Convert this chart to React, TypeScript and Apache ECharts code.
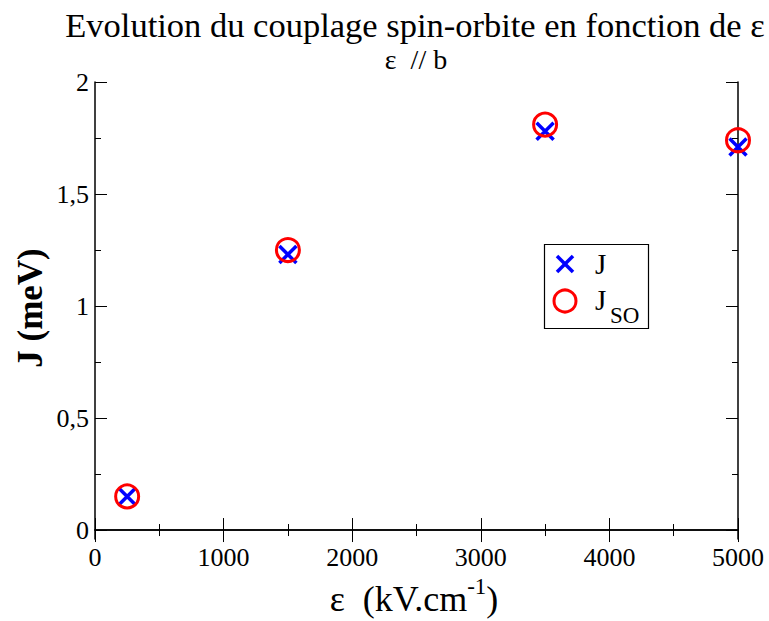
import React, { useEffect, useRef } from "react";
import * as echarts from "echarts";

const xValues = [250, 1500, 3500, 5000];
const jValues = [0.15, 1.23, 1.78, 1.71];
const jsoValues = [0.15, 1.25, 1.81, 1.74];
const yMajorTicks = [0, 0.5, 1, 1.5, 2];
const yMinorTicks = [0.25, 0.75, 1.25, 1.75];

const FONT = "'Liberation Serif', 'Times New Roman', serif";

export default function App() {
  const ref = useRef<HTMLDivElement>(null);
  useEffect(() => {
    document.body.style.margin = "0";
    const chart = echarts.init(ref.current!, null, { renderer: "svg" });
    const axisLine = { show: true, lineStyle: { color: "#000", width: 1.5 } };
    const majorTick = { show: true, inside: true, length: 12, lineStyle: { color: "#000", width: 1 } };
    const minorTick = { show: true, inside: true, length: 6, lineStyle: { color: "#000", width: 1 } };
    const xCommon = {
      type: "value",
      min: 0,
      max: 5000,
      interval: 1000,
      splitLine: { show: false },
      axisLine,
      axisTick: majorTick,
      minorTick: { ...minorTick, splitNumber: 2 },
      minorSplitLine: { show: false },
    };
    const yCommon = {
      type: "value",
      min: -0.04,
      max: 2,
      splitLine: { show: false },
    };
    const txt = (size: number, weight: string = "normal") => ({
      fontFamily: FONT,
      fontSize: size,
      fontWeight: weight,
      fill: "#000",
    });
    chart.setOption({
      animation: false,
      backgroundColor: "#fff",
      grid: { left: 95, right: 31, top: 82, bottom: 82, containLabel: false },
      xAxis: [
        {
          ...xCommon,
          position: "bottom",
          axisLabel: {
            show: true,
            fontFamily: FONT,
            fontSize: 26,
            color: "#000",
            margin: 5,
            formatter: (v: number) => String(v),
          },
        },
        { ...xCommon, position: "top", axisLabel: { show: false } },
      ],
      yAxis: [
        {
          ...yCommon,
          position: "left",
          axisLine,
          axisTick: { ...majorTick, customValues: yMajorTicks },
          axisLabel: {
            show: true,
            customValues: yMajorTicks,
            fontFamily: FONT,
            fontSize: 26,
            color: "#000",
            margin: 6,
            formatter: (v: number) => String(v).replace(".", ","),
          },
        },
        {
          ...yCommon,
          position: "left",
          axisLine: { show: false },
          axisTick: { ...minorTick, customValues: yMinorTicks },
          axisLabel: { show: false },
        },
        {
          ...yCommon,
          position: "right",
          axisLine,
          axisTick: { ...majorTick, customValues: yMajorTicks },
          axisLabel: { show: false },
        },
        {
          ...yCommon,
          position: "right",
          axisLine: { show: false },
          axisTick: { ...minorTick, customValues: yMinorTicks },
          axisLabel: { show: false },
        },
      ],
      series: [
        {
          name: "J",
          type: "scatter",
          xAxisIndex: 0,
          yAxisIndex: 0,
          symbol: "path://M0,0L10,10M10,0L0,10",
          symbolSize: 17,
          itemStyle: { color: "none", borderColor: "#0000ff", borderWidth: 3.5, opacity: 1 },
          data: xValues.map((x, i) => [x, jValues[i]]),
          z: 2,
        },
        {
          name: "JSO",
          type: "scatter",
          xAxisIndex: 0,
          yAxisIndex: 0,
          symbol: "circle",
          symbolSize: 23,
          itemStyle: { color: "none", borderColor: "#ff0000", borderWidth: 3, opacity: 1 },
          data: xValues.map((x, i) => [x, jsoValues[i]]),
          z: 3,
        },
      ],
      graphic: [
        {
          type: "text",
          x: 415,
          y: 25,
          style: {
            text: "Evolution du couplage spin-orbite en fonction de ε",
            ...txt(34.5),
            align: "center",
            verticalAlign: "middle",
          },
        },
        {
          type: "text",
          x: 416,
          y: 59,
          style: {
            text: "ε  // b",
            ...txt(28),
            align: "center",
            verticalAlign: "middle",
          },
        },
        {
          type: "text",
          x: 30,
          y: 308,
          rotation: Math.PI / 2,
          style: {
            text: "J (meV)",
            ...txt(35, "bold"),
            align: "center",
            verticalAlign: "middle",
          },
        },
        {
          type: "text",
          x: 414,
          y: 596,
          style: {
            text: "{n|ε  (kV.cm}{s|-1}{n|)}",
            fill: "#000",
            align: "center",
            verticalAlign: "middle",
            rich: {
              n: { ...txt(36), lineHeight: 42, verticalAlign: "bottom" },
              s: { ...txt(23), verticalAlign: "top", lineHeight: 42 },
            },
          },
        },
        {
          type: "rect",
          shape: { x: 544.5, y: 244.5, width: 104, height: 84 },
          style: { fill: "#fff", stroke: "#000", lineWidth: 1.2 },
          z: 10,
        },
        {
          type: "line",
          shape: { x1: 557, y1: 256, x2: 573, y2: 272 },
          style: { stroke: "#0000ff", lineWidth: 3.5 },
          z: 11,
        },
        {
          type: "line",
          shape: { x1: 573, y1: 256, x2: 557, y2: 272 },
          style: { stroke: "#0000ff", lineWidth: 3.5 },
          z: 11,
        },
        {
          type: "circle",
          shape: { cx: 565, cy: 301, r: 11 },
          style: { fill: "none", stroke: "#ff0000", lineWidth: 3 },
          z: 11,
        },
        {
          type: "text",
          x: 595,
          y: 264,
          style: { text: "J", ...txt(29), verticalAlign: "middle" },
          z: 11,
        },
        {
          type: "text",
          x: 595,
          y: 300,
          style: { text: "J", ...txt(29), verticalAlign: "middle" },
          z: 11,
        },
        {
          type: "text",
          x: 610,
          y: 315,
          style: { text: "SO", ...txt(23), verticalAlign: "middle" },
          z: 11,
        },
      ],
    });
    return () => chart.dispose();
  }, []);
  return <div ref={ref} style={{ width: 769, height: 621 }} />;
}
